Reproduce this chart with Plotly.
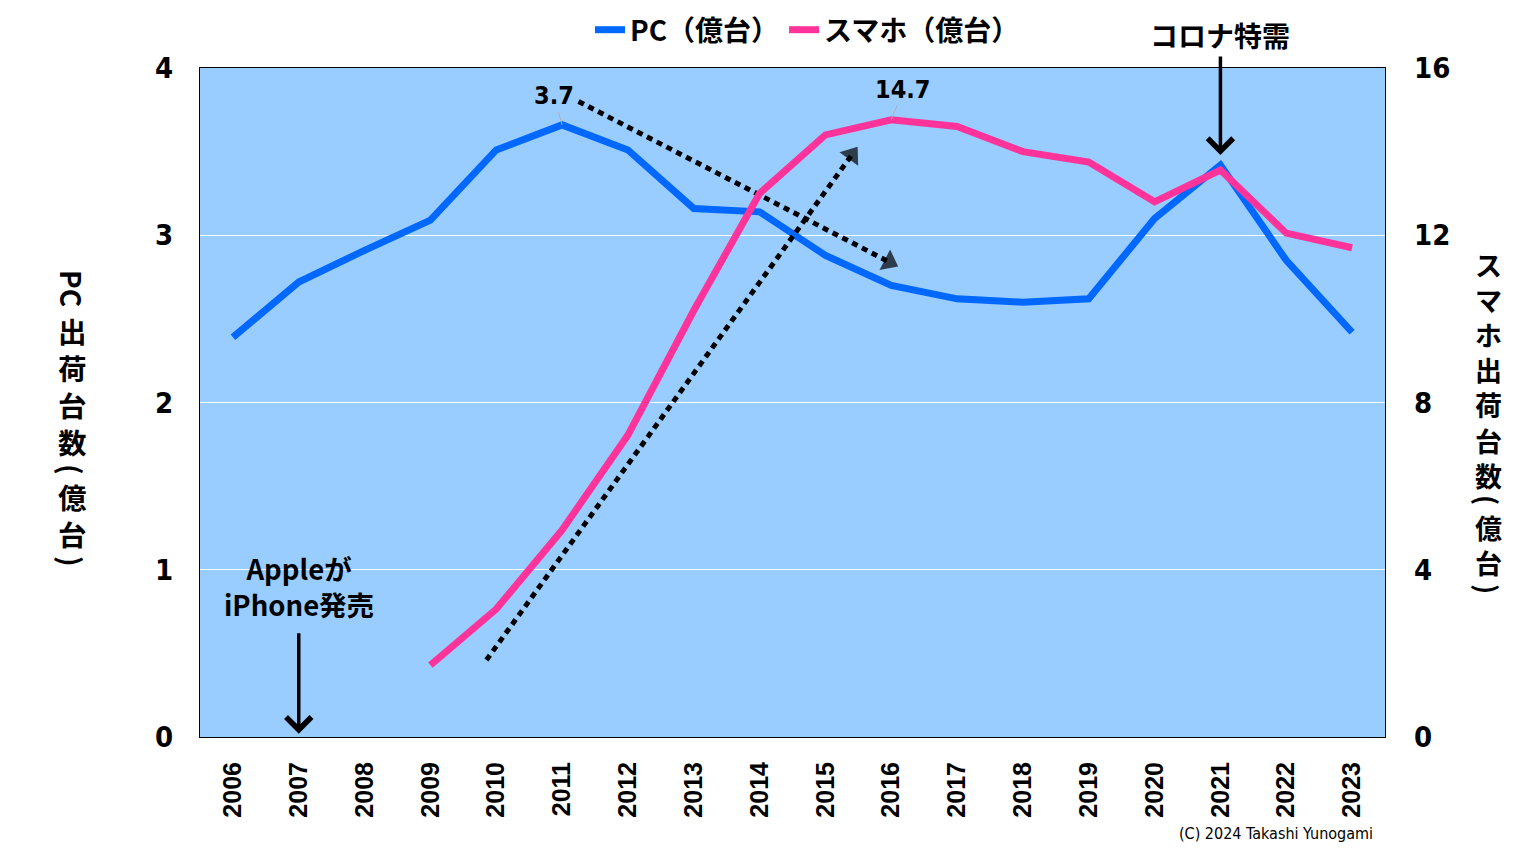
import plotly.graph_objects as go

years = list(range(2006, 2024))
pc = [2.39, 2.72, 2.91, 3.09, 3.51, 3.66, 3.51, 3.16, 3.14, 2.88, 2.70, 2.62, 2.60, 2.62, 3.10, 3.42, 2.85, 2.42]
sp_years = list(range(2009, 2024))
smartphone = [1.72, 3.06, 4.95, 7.22, 10.2, 13.0, 14.4, 14.76, 14.6, 14.0, 13.75, 12.8, 13.56, 12.05, 11.7]

left_ticks = [0, 1, 2, 3, 4]
right_ticks = [0, 4, 8, 12, 16]

BLUE = "#0068FF"
PINK = "#FF3399"
JP = "Noto Sans CJK JP"
NARROW = "Liberation Sans Narrow, DejaVu Sans Condensed, Roboto Condensed, Liberation Sans"

# page body has an 8px margin; figure coordinates below are page pixels minus 8
OFF = 8
W, H = 1521 - OFF, 849 - OFF
PL, PR, PT, PB = 200, 1385, 68, 737  # plot box in page pixels
PW, PH = PR - PL, PB - PT


def px(xp):
    return (xp - PL) / PW


def py(yp):
    return (PB - yp) / PH


fig = go.Figure()

fig.add_trace(go.Scatter(
    x=years, y=pc, mode="lines", name="PC（億台）",
    line=dict(color=BLUE, width=7), yaxis="y"))
fig.add_trace(go.Scatter(
    x=sp_years, y=smartphone, mode="lines", name="スマホ（億台）",
    line=dict(color=PINK, width=7), yaxis="y2"))

# dotted trend arrows
for xs, ys in (([2009.85, 2015.4], [0.46, 3.48]), ([2011.25, 2015.97], [3.80, 2.84])):
    fig.add_trace(go.Scatter(
        x=xs, y=ys, mode="lines+markers",
        line=dict(color="black", width=5, dash="6px,5px"),
        marker=dict(symbol=["circle", "triangle-up"], size=[0, 20], color="black",
                    angleref="previous", line=dict(width=0)),
        showlegend=False, hoverinfo="skip", yaxis="y"))

annotations = []
# data labels
annotations.append(dict(x=2011, y=3.66, xref="x", yref="y", text="<b>3.7</b>",
                        showarrow=True, arrowhead=0, arrowwidth=1, arrowcolor="#B0B0B0",
                        ax=-8, ay=-29, font=dict(family=NARROW, size=25, color="black")))
annotations.append(dict(x=2016, y=14.76, xref="x", yref="y2", text="<b>14.7</b>",
                        showarrow=True, arrowhead=0, arrowwidth=1, arrowcolor="#B0B0B0",
                        ax=12, ay=-30, font=dict(family=NARROW, size=25, color="black")))
# corona arrow
annotations.append(dict(x=2021, y=3.48, xref="x", yref="y", text="",
                        showarrow=True, arrowhead=4, arrowsize=1.4, arrowwidth=3.5,
                        arrowcolor="black", ax=0, ay=-100))
annotations.append(dict(x=2021, y=py(35), xref="x", yref="paper", text="<b>コロナ特需</b>",
                        showarrow=False, font=dict(family=JP, size=28, color="black"),
                        xanchor="center", yanchor="middle"))
# iPhone arrow
annotations.append(dict(x=2007, y=0.02, xref="x", yref="y", text="",
                        showarrow=True, arrowhead=4, arrowsize=1.4, arrowwidth=3.5,
                        arrowcolor="black", ax=0, ay=-102))
annotations.append(dict(x=2007, y=0.90, xref="x", yref="y",
                        text="<b>Appleが<br>iPhone発売</b>",
                        showarrow=False, font=dict(family=JP, size=27.5, color="black"),
                        xanchor="center", yanchor="middle"))


def vtext(text, xp, yp, size, angle=0):
    annotations.append(dict(x=px(xp), y=py(yp), xref="paper", yref="paper",
                            text=f"<b>{text}</b>", textangle=angle, showarrow=False,
                            xanchor="center", yanchor="middle",
                            font=dict(family=JP, size=size, color="black")))


# left axis title (vertical writing)
vtext("PC", 72, 288, 28, 90)
vtext("出<br>荷<br>台<br>数", 72, 386, 28.5)
vtext("(", 72, 469, 28, 90)
vtext("億<br>台", 72, 515, 28.5)
vtext(")", 72, 561, 28, 90)

# right axis title (vertical writing)
vtext("ス<br>マ<br>ホ<br>出<br>荷<br>台<br>数", 1488, 370, 27)
vtext("(", 1488, 500, 27, 90)
vtext("億<br>台", 1488, 545, 27)
vtext(")", 1488, 589, 27, 90)

annotations.append(dict(x=px(1276), y=py(833), xref="paper", yref="paper",
                        text="(C) 2024 Takashi Yunogami", showarrow=False,
                        xanchor="center", yanchor="middle",
                        font=dict(family=NARROW, size=16, color="black")))

fig.update_layout(
    width=W, height=H,
    margin=dict(l=PL - OFF, r=1521 - PR, t=PT - OFF, b=849 - PB, autoexpand=False),
    paper_bgcolor="white",
    plot_bgcolor="#99CCFF",
    showlegend=True,
    legend=dict(orientation="h", x=px(590), xanchor="left",
                yref="container", y=1 - (30 - OFF) / H, yanchor="middle",
                font=dict(family=JP, size=28, color="black", weight="bold"),
                itemwidth=30, tracegroupgap=0, bgcolor="rgba(0,0,0,0)"),
    xaxis=dict(range=[2005.5, 2023.5], tickvals=years, ticktext=[str(y) for y in years],
               tickangle=-90, tickfont=dict(family="Liberation Sans", size=25, color="black", weight="bold"),
               showgrid=False, zeroline=False, showline=True, linecolor="black", linewidth=1,
               mirror=True, ticks="", ticklabelstandoff=14),
    yaxis=dict(range=[0, 4], tickvals=left_ticks, ticktext=[str(v) for v in left_ticks],
               tickfont=dict(family=NARROW, size=29, color="black", weight="bold"),
               showgrid=True, gridcolor="white", gridwidth=1, zeroline=False,
               showline=True, linecolor="black", linewidth=1, mirror=True,
               ticks="", ticklabelstandoff=20),
    yaxis2=dict(range=[0, 16], tickvals=right_ticks, ticktext=[str(v) for v in right_ticks],
                overlaying="y", side="right",
                tickfont=dict(family=NARROW, size=29, color="black", weight="bold"),
                showgrid=False, zeroline=False, showline=False, ticks="",
                ticklabelstandoff=28),
    annotations=annotations,
)

fig.write_html("out.html")
